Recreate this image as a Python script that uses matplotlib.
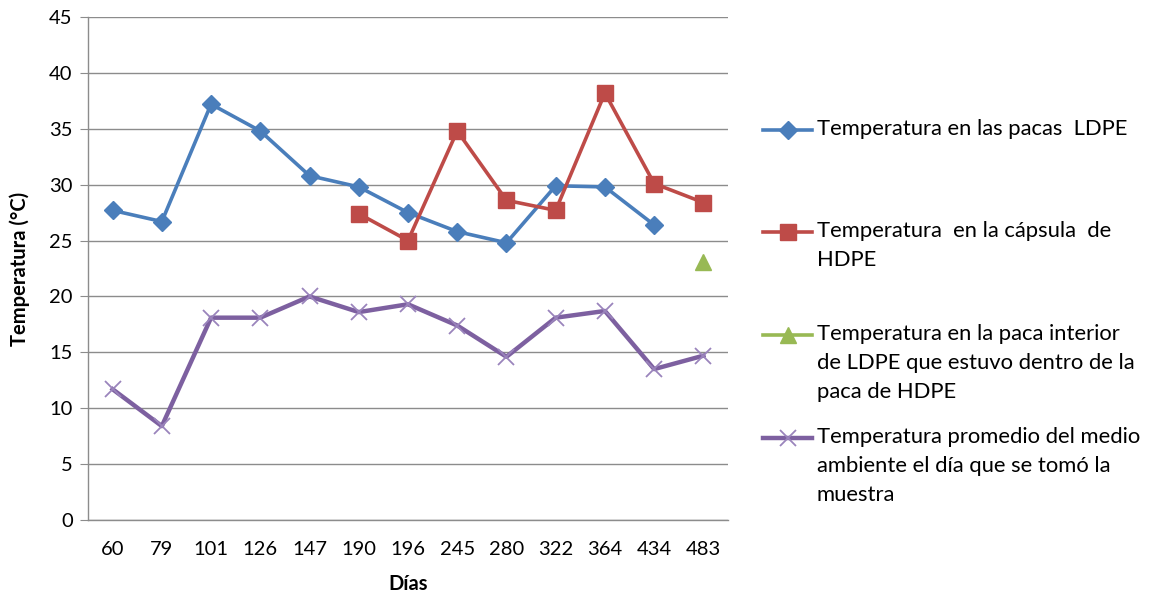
import numpy as np
import matplotlib.pyplot as plt
from matplotlib.lines import Line2D

plt.rcParams['font.family'] = ['Lato', 'DejaVu Sans']

dias = ['60', '79', '101', '126', '147', '190', '196', '245', '280', '322', '364', '434', '483']
nan = np.nan
pacas_ldpe = [27.7, 26.7, 37.2, 34.8, 30.8, 29.8, 27.5, 25.8, 24.8, 29.9, 29.8, 26.4, nan]
capsula_hdpe = [nan, nan, nan, nan, nan, 27.4, 25.0, 34.8, 28.6, 27.7, 38.2, 30.1, 28.4]
paca_interior = [nan, nan, nan, nan, nan, nan, nan, nan, nan, nan, nan, nan, 23.1]
ambiente = [11.7, 8.4, 18.1, 18.1, 20.0, 18.6, 19.3, 17.4, 14.6, 18.1, 18.7, 13.5, 14.7]

labels = [
    'Temperatura en las pacas  LDPE',
    'Temperatura  en la cápsula  de\nHDPE',
    'Temperatura en la paca interior\nde LDPE que estuvo dentro de la\npaca de HDPE',
    'Temperatura promedio del medio\nambiente el día que se tomó la\nmuestra',
]

styles = [
    dict(color='#4A7EBB', marker='D', markersize=9, lw=2.6),
    dict(color='#BE4B48', marker='s', markersize=11, lw=2.6),
    dict(color='#98B954', marker='^', markersize=12, lw=2.6),
    dict(color='#7D60A0', marker='x', markersize=12, lw=3.2,
         markeredgewidth=1.3, markeredgecolor='#9A84BC'),
]
series = [pacas_ldpe, capsula_hdpe, paca_interior, ambiente]

fig = plt.figure(figsize=(11.57, 6.02), dpi=100)
ax = fig.add_axes([88 / 1157, 1 - 520 / 602, 640 / 1157, 503 / 602])

x = np.arange(len(dias))
for vals, st in zip(series, styles):
    ax.plot(x, vals, solid_joinstyle='round', **st)

ax.set_xlim(-0.5, len(dias) - 0.5)
ax.set_ylim(0, 45)
ax.set_yticks(np.arange(0, 46, 5))
ax.set_xticks(x)
ax.set_xticklabels(dias)
ax.yaxis.grid(True, color='#8C8C8C', lw=1)
ax.set_axisbelow(True)
for s in ['top', 'right']:
    ax.spines[s].set_visible(False)
for s in ['left', 'bottom']:
    ax.spines[s].set_color('#8C8C8C')
    ax.spines[s].set_linewidth(1)
ax.tick_params(axis='y', length=6, color='#8C8C8C', labelsize=14.5, pad=5)
ax.tick_params(axis='x', length=0, labelsize=14.5, pad=15)
ax.set_ylabel('Temperatura (°C)', fontsize=14.5, fontweight='bold', labelpad=14)
ax.set_xlabel('Días', fontsize=14.5, fontweight='bold', labelpad=12)

# legend drawn by hand so that each handle sits on the first line of its label
first_line_y = [130, 232, 335, 438]
for lab, st, ypx in zip(labels, styles, first_line_y):
    yf = 1 - ypx / 602
    x0, x1 = 763 / 1157, 812 / 1157
    fig.add_artist(Line2D([x0, (x0 + x1) / 2, x1], [yf, yf, yf], transform=fig.transFigure,
                          markevery=[1], **st))
    fig.text(817 / 1157, yf + 11 / 602, lab, fontsize=15.8, va='top', ha='left',
             linespacing=1.55, transform=fig.transFigure)

fig.savefig('out.png', dpi=100)
